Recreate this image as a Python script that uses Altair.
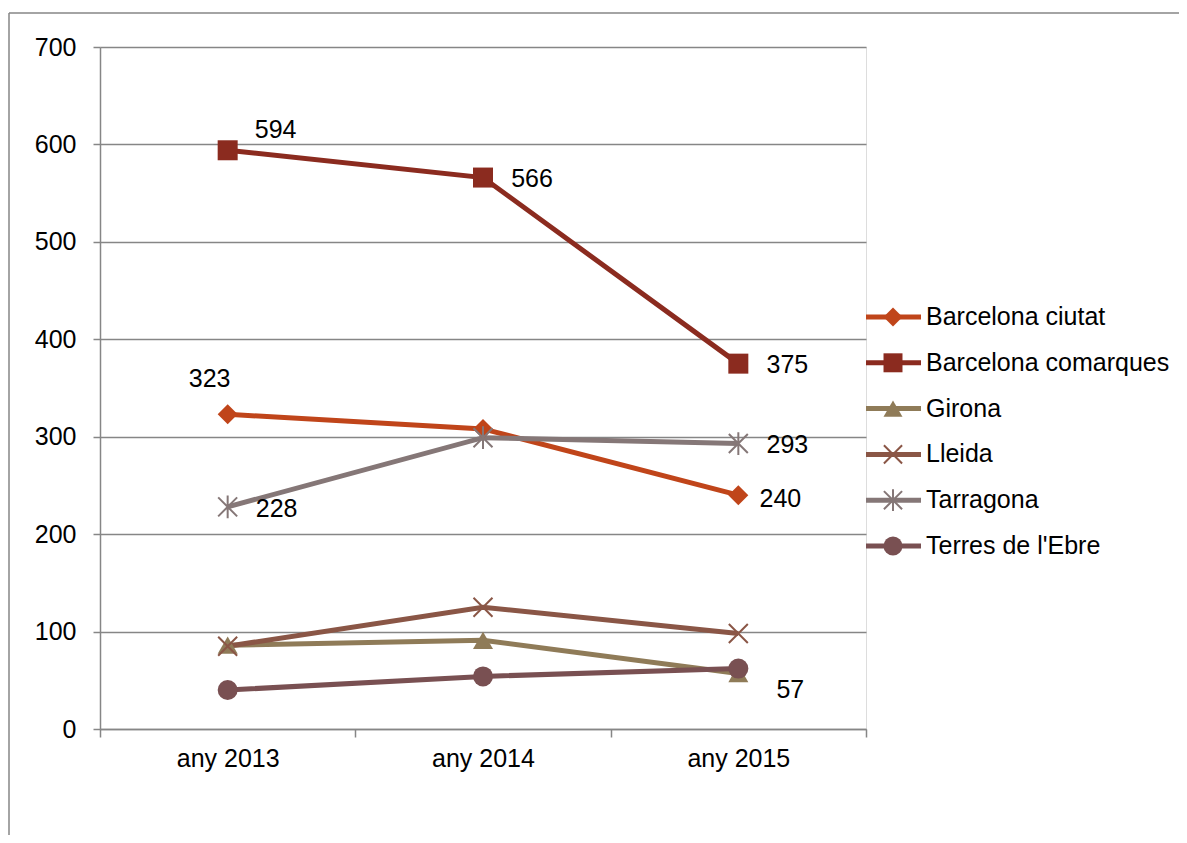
import altair as alt
import pandas as pd

years = ["any 2013", "any 2014", "any 2015"]
series = ["Barcelona ciutat", "Barcelona comarques", "Girona", "Lleida", "Tarragona", "Terres de l'Ebre"]
barcelona_ciutat = [323, 308, 240]
barcelona_comarques = [594, 566, 375]
girona = [86, 91, 57]
lleida = [85, 125, 98]
tarragona = [228, 299, 293]
terres_ebre = [40, 54, 62]
y_ticks = [0, 100, 200, 300, 400, 500, 600, 700]

colors = ["#C0451A", "#8B2B1F", "#8F7B58", "#8A5646", "#857777", "#795052"]
X_PATH = "M-1,-1L1,1M-1,1L1,-1"
AST_PATH = "M-1,-1L1,1M-1,1L1,-1M0,-1.2L0,1.2"
shapes = ["diamond", "square", "triangle-up", X_PATH, AST_PATH, "circle"]

values = [barcelona_ciutat, barcelona_comarques, girona, lleida, tarragona, terres_ebre]
rows = []
for s, vals in zip(series, values):
    for yr, v in zip(years, vals):
        rows.append({"series": s, "year": yr, "value": v})
df = pd.DataFrame(rows)

FONT = "Liberation Sans"
GRAY = "#868686"

x_enc = alt.X("year:N", sort=years, bandPosition=0.5,
              scale=alt.Scale(type="band", paddingInner=0, paddingOuter=0, domain=years),
              axis=alt.Axis(title=None, labelAngle=0, tickBand="extent", tickSize=8,
                            labelPadding=9, labelFontSize=25, labelFont=FONT,
                            labelColor="#000000", domainColor=GRAY, tickColor=GRAY,
                            grid=False, domainWidth=1.5, tickWidth=1.5))
y_enc = alt.Y("value:Q", scale=alt.Scale(domain=[0, 700], nice=False),
              axis=alt.Axis(title=None, values=y_ticks, tickSize=7, labelPadding=17,
                            labelFontSize=25, labelFont=FONT, labelColor="#000000",
                            domainColor=GRAY, tickColor=GRAY, gridColor=GRAY,
                            grid=True, domainWidth=1.5, tickWidth=1.5, gridWidth=1.5))
color_enc = alt.Color("series:N", scale=alt.Scale(domain=series, range=colors), legend=None)
shape_enc = alt.Shape("series:N", scale=alt.Scale(domain=series, range=shapes), legend=None)

base = alt.Chart(df)
lines = base.mark_line(strokeWidth=5).encode(x=x_enc, y=y_enc, color=color_enc, detail="series:N")

filled_series = ["Barcelona ciutat", "Barcelona comarques", "Girona", "Terres de l'Ebre"]
stroked_series = ["Lleida", "Tarragona"]
pts_filled = base.transform_filter(
    alt.FieldOneOfPredicate(field="series", oneOf=filled_series)
).mark_point(filled=True, size=400, opacity=1).encode(
    x=x_enc, y=y_enc, color=color_enc, shape=shape_enc)
pts_stroked = base.transform_filter(
    alt.FieldOneOfPredicate(field="series", oneOf=stroked_series)
).mark_point(filled=False, size=360, opacity=1, strokeWidth=2).encode(
    x=x_enc, y=y_enc, color=color_enc, shape=shape_enc)

def label(s, yr, dx, dy):
    return base.transform_filter(
        (alt.datum.series == s) & (alt.datum.year == yr)
    ).mark_text(align="center", baseline="middle", dx=dx, dy=dy, fontSize=25,
                font=FONT, color="#000000").encode(x=x_enc, y=y_enc, text="value:Q")

labels = [
    label("Barcelona comarques", "any 2013", 48, -20),
    label("Barcelona comarques", "any 2014", 49, 1),
    label("Barcelona comarques", "any 2015", 49, 1),
    label("Barcelona ciutat", "any 2013", -18, -35),
    label("Barcelona ciutat", "any 2015", 42, 4),
    label("Tarragona", "any 2013", 49, 2),
    label("Tarragona", "any 2015", 49, 1),
    label("Girona", "any 2015", 52, 17),
]

data_layer = alt.layer(lines, pts_filled, pts_stroked, *labels)

# outer frame
one = alt.Chart(pd.DataFrame({"a": [0]}))
frame_left = one.mark_rule(color=GRAY, strokeWidth=1.5).encode(
    x=alt.value(-91), y=alt.value(-34), y2=alt.value(900))
frame_top = one.mark_rule(color=GRAY, strokeWidth=1.5).encode(
    x=alt.value(-91), x2=alt.value(1079), y=alt.value(-34))

# legend
leg_df = pd.DataFrame({"series": series})
leg_base = alt.Chart(leg_df)
leg_y = alt.Y("series:N", scale=alt.Scale(type="point", domain=series, range=[270, 499], padding=0), axis=None)
leg_rules = leg_base.mark_rule(strokeWidth=5).encode(
    x=alt.value(766), x2=alt.value(821), y=leg_y, color=color_enc)
leg_filled = leg_base.transform_filter(
    alt.FieldOneOfPredicate(field="series", oneOf=filled_series)
).mark_point(filled=True, size=360, opacity=1).encode(
    x=alt.value(793), y=leg_y, color=color_enc, shape=shape_enc)
leg_stroked = leg_base.transform_filter(
    alt.FieldOneOfPredicate(field="series", oneOf=stroked_series)
).mark_point(filled=False, size=330, opacity=1, strokeWidth=2).encode(
    x=alt.value(793), y=leg_y, color=color_enc, shape=shape_enc)
leg_text = leg_base.mark_text(align="left", baseline="middle", fontSize=25, font=FONT,
                              color="#000000", dx=0).encode(
    x=alt.value(826), y=leg_y, text="series:N")
legend_layer = alt.layer(leg_rules, leg_filled, leg_stroked, leg_text)

chart = alt.layer(frame_left, frame_top, data_layer, legend_layer).resolve_scale(
    y="independent"
).properties(
    width=766, height=682,
    padding={"left": 92, "top": 39, "right": 313, "bottom": 106},
    autosize=alt.AutoSizeParams(type="none"),
).configure_view(stroke=None).configure(background="#ffffff")

chart.save("out.html", embed_options={"renderer": "svg", "actions": False})
